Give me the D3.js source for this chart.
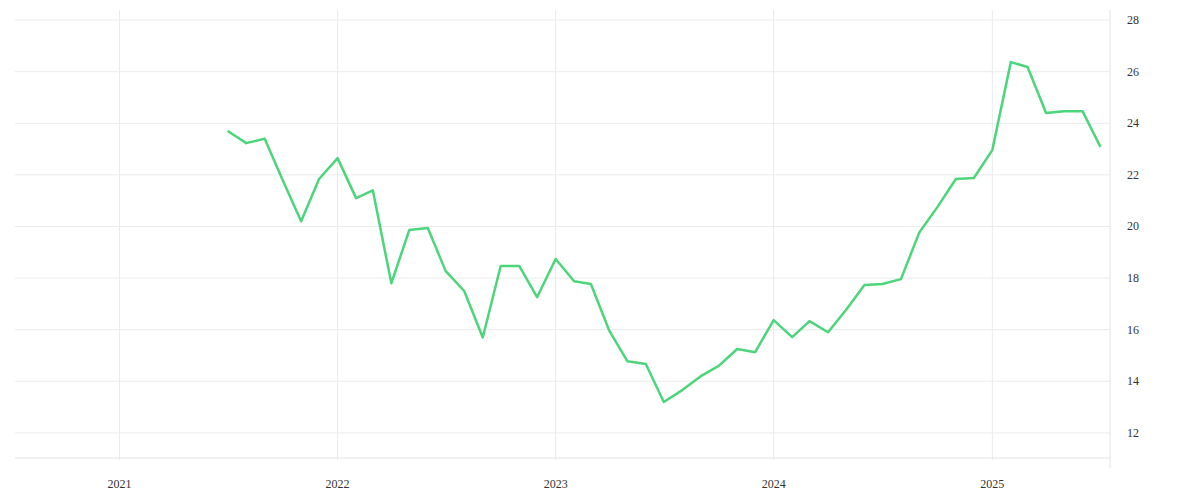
<!DOCTYPE html>
<html><head><meta charset="utf-8">
<script src="https://cdn.jsdelivr.net/npm/d3@7"></script>
<style>body{margin:0;background:#fff}text{font-family:"Liberation Serif","DejaVu Serif",serif;font-size:12px;fill:#333}</style>
</head><body><svg id="c" width="1200" height="500"></svg>
<script>
const startMonth = "2021-07";
const values = [23.7,23.23,23.4,21.8,20.2,21.84,22.65,21.1,21.4,17.8,19.86,19.94,18.27,17.5,15.7,18.47,18.47,17.26,18.74,17.88,17.77,15.95,14.78,14.67,13.2,13.66,14.2,14.6,15.25,15.13,16.37,15.71,16.33,15.9,16.76,17.73,17.77,17.96,19.78,20.75,21.84,21.88,22.96,26.37,26.18,24.4,24.47,24.47,23.08];
const yTicks = [12,14,16,18,20,22,24,26,28];
const xTicks = ["2021","2022","2023","2024","2025"];

const parse = d3.timeParse("%Y-%m");
const s = parse(startMonth);
const data = values.map((v,i)=>({d:d3.timeMonth.offset(s,i),v}));
const svg = d3.select("#c");
const x = d3.scaleTime().domain([new Date(2020,6,10),new Date(2025,6,17)]).range([15,1110]);
const y = d3.scaleLinear().domain([10.95,28.39]).range([460,10]);
const g = svg.append("g");
g.selectAll(".hg").data(yTicks).join("line").attr("x1",15).attr("x2",1110)
 .attr("y1",d=>y(d)).attr("y2",d=>y(d)).attr("stroke","#ebebeb");
g.selectAll(".vg").data(xTicks).join("line").attr("x1",d=>x(parse(d+"-01"))).attr("x2",d=>x(parse(d+"-01")))
 .attr("y1",10).attr("y2",460).attr("stroke","#ebebeb");
g.append("line").attr("x1",15).attr("x2",1110).attr("y1",458).attr("y2",458).attr("stroke","#e3e3e3");
g.append("line").attr("x1",1110).attr("x2",1110).attr("y1",10).attr("y2",468).attr("stroke","#e3e3e3");
g.selectAll(".yl").data(yTicks).join("text").attr("x",1127).attr("y",d=>y(d)+4).text(d=>d);
g.selectAll(".xl").data(xTicks).join("text").attr("text-anchor","middle")
 .attr("x",d=>x(parse(d+"-01"))).attr("y",488).text(d=>d);
svg.append("path").datum(data).attr("fill","none").attr("stroke","#4cd57a").attr("stroke-width",2.5)
 .attr("stroke-linejoin","round").attr("d",d3.line().x(d=>x(d.d)).y(d=>y(d.v)));
</script></body></html>
